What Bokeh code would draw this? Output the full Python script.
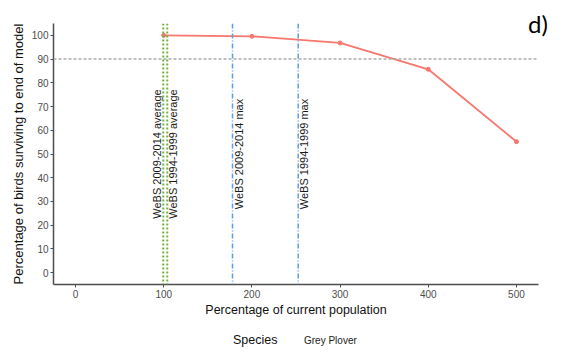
import math
from bokeh.plotting import figure
from bokeh.layouts import column
from bokeh.models import Span, Range1d, Legend, LegendItem, FixedTicker
from bokeh.embed import file_html
from bokeh.resources import INLINE
from bokeh.core.properties import value

# ---- data ----
population_pct = [100, 200, 300, 400, 500]
survival_pct = [100.0, 99.6, 96.8, 85.7, 55.2]
species = "Grey Plover"
legend_title = "Species"
threshold = 90
avg_lines = [99.5, 104]
avg_labels = ["WeBS 2009-2014 average", "WeBS 1994-1999 average"]
max_lines = [178, 252.5]
max_labels = ["WeBS 2009-2014 max", "WeBS 1994-1999 max"]
label_y = 50
x_ticks = [0, 100, 200, 300, 400, 500]
y_ticks = [0, 10, 20, 30, 40, 50, 60, 70, 80, 90, 100]
panel_tag = "d)"

FONT = "Liberation Sans"
RED = "#F8766D"
GREEN = "#72B33E"
BLUE = "#5E9FE8"

p = figure(frame_width=485, frame_height=261,
           min_border_left=53, min_border_right=17,
           min_border_top=23, min_border_bottom=40,
           x_range=Range1d(-25, 525), y_range=Range1d(-5, 105),
           output_backend="svg", toolbar_location=None,
           background_fill_color="white", border_fill_color="white")
p.outline_line_color = None
p.xgrid.visible = False
p.ygrid.visible = False

for ax in (p.xaxis[0], p.yaxis[0]):
    ax.axis_line_color = "#4d4d4d"
    ax.axis_line_width = 1.5
    ax.major_tick_line_color = "#4d4d4d"
    ax.major_tick_in = 0
    ax.major_tick_out = 3
    ax.minor_tick_line_color = None
    ax.major_label_text_font = FONT
    ax.major_label_text_font_size = "10px"
    ax.major_label_text_color = "#4d4d4d"
    ax.major_label_standoff = 2
    ax.axis_label_text_font = FONT
    ax.axis_label_text_font_style = "normal"
    ax.axis_label_text_color = "#111111"

p.xaxis.ticker = FixedTicker(ticks=x_ticks)
p.yaxis.ticker = FixedTicker(ticks=y_ticks)
p.xaxis.axis_label = "Percentage of current population"
p.yaxis.axis_label = "Percentage of birds surviving to end of model"
p.xaxis.axis_label_text_font_size = "12.5px"
p.yaxis.axis_label_text_font_size = "13px"
p.xaxis.axis_label_standoff = 2
p.yaxis.axis_label_standoff = 3

# threshold line
p.add_layout(Span(location=threshold, dimension="width", line_color="#aaaaaa",
                  line_width=1.5, line_dash="3 2"))
# reference lines
for loc in avg_lines:
    p.add_layout(Span(location=loc, dimension="height", line_color=GREEN,
                      line_width=2, line_dash="2 2"))
for loc in max_lines:
    p.add_layout(Span(location=loc, dimension="height", line_color=BLUE,
                      line_width=1.5, line_dash="5 2 1 2"))

lbl_kw = dict(angle=math.pi / 2, text_align="center", text_font=value(FONT),
              text_font_size="11px", text_color="#1a1a1a")
p.text(x=[avg_lines[0]], y=[label_y], text=[avg_labels[0]], text_baseline="bottom", **lbl_kw)
p.text(x=[avg_lines[1]], y=[label_y], text=[avg_labels[1]], text_baseline="top", **lbl_kw)
p.text(x=max_lines, y=[label_y] * 2, text=max_labels, text_baseline="top", **lbl_kw)

# data
ln = p.line(population_pct, survival_pct, line_color=RED, line_width=1.8)
pt = p.scatter(population_pct, survival_pct, size=4, fill_color=RED, line_color=RED)

common = dict(border_line_color=None, background_fill_alpha=0, padding=0, margin=0,
              spacing=0, orientation="horizontal")

# panel tag
tag = Legend(items=[LegendItem(label=panel_tag, renderers=[])],
             location=(-10, 246), glyph_width=0, glyph_height=28,
             label_standoff=0, label_height=28,
             label_text_font="Lato", label_text_font_size="24px",
             label_text_color="black", **common)
p.add_layout(tag, "right")

# ---- legend strip below the chart ----
q = figure(frame_width=558, frame_height=30,
           min_border=0, min_border_left=0, min_border_right=0,
           min_border_top=0, min_border_bottom=0,
           x_range=Range1d(0, 1), y_range=Range1d(0, 1),
           x_axis_type=None, y_axis_type=None,
           output_backend="svg", toolbar_location=None,
           background_fill_color="white", border_fill_color="white")
q.outline_line_color = None
q.xgrid.visible = False
q.ygrid.visible = False
kln = q.line([], [], line_color=RED, line_width=1.8)
kpt = q.scatter([], [], size=4, fill_color=RED, line_color=RED)

leg_title = Legend(items=[LegendItem(label=legend_title, renderers=[])],
                   location=(233, 7), glyph_width=0, glyph_height=14,
                   label_standoff=0, label_height=14,
                   label_text_font=FONT, label_text_font_size="12.5px",
                   label_text_color="#111111", **common)
leg = Legend(items=[LegendItem(label=species, renderers=[kln, kpt])],
             location=(286, 8), glyph_width=14, glyph_height=12,
             label_standoff=4, label_height=12,
             label_text_font=FONT, label_text_font_size="10px",
             label_text_color="#222222", **common)
q.add_layout(leg_title)
q.add_layout(leg)

layout = column(p, q, spacing=0)
open("out.html", "w").write(file_html(layout, INLINE))
